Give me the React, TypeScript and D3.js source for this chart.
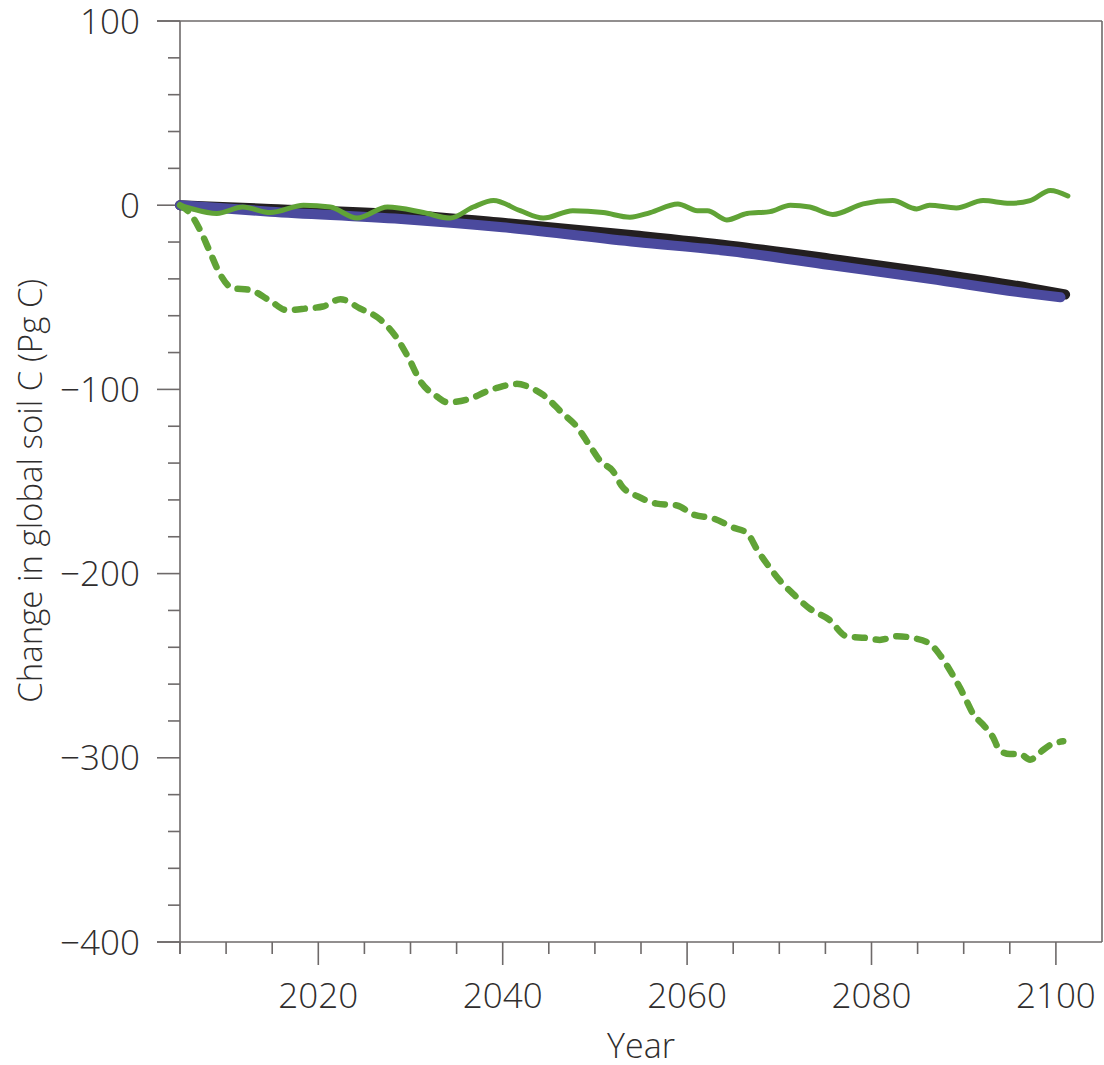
import React from 'react';
import * as d3 from 'd3';

const width = 1104;
const height = 1065;
const margin = { top: 21, right: 2, bottom: 123, left: 180 };

// soil C change (Pg C)
const dashedYears = [2005, 2006.1, 2007.2, 2008.3, 2009.3, 2010.7, 2012.6, 2014.8, 2016.6, 2018.8, 2020.5, 2022.4, 2024.5, 2026.7, 2028.5, 2029.9, 2031, 2032.9, 2034, 2036.5, 2038.3, 2039.5, 2041.5, 2043, 2044.4, 2046.5, 2048, 2049.5, 2050.6, 2051.9, 2053, 2054.6, 2056.7, 2058.9, 2060.7, 2062.8, 2065, 2066.5, 2067.6, 2069, 2070.1, 2071.5, 2073.3, 2075.4, 2077.3, 2079.5, 2080.9, 2082.8, 2084.5, 2086.3, 2087.4, 2088.8, 2089.6, 2090.3, 2091, 2092.1, 2093.2, 2093.9, 2095, 2096.1, 2097.2, 2098.3, 2099.4, 2100.8];
const dashedValues = [0, -4.5, -13.7, -26, -37, -45, -46, -52, -57, -56, -55, -51, -56, -62, -72, -84, -95, -104, -107, -105, -101, -99, -97, -99, -103, -113, -120, -131, -139, -144, -153, -158, -162, -163, -168, -170, -175, -178, -187, -197, -204, -211, -219, -225, -234, -235, -236, -234, -235, -238, -244, -255, -262, -269, -276, -282, -289, -296, -298, -298, -301, -297, -293, -291];

const greenYears = [2005, 2006, 2009, 2011.8, 2014.8, 2018.4, 2021.3, 2024.2, 2027.5, 2031.4, 2034.3, 2036.8, 2039, 2041.9, 2044.4, 2047.6, 2050.9, 2053.8, 2056, 2059, 2061.1, 2062.2, 2064.3, 2066.5, 2069, 2071.2, 2073.3, 2075.8, 2079.1, 2082.3, 2084.9, 2086.3, 2089.2, 2092.1, 2095, 2097.2, 2099.4, 2101.3];
const greenValues = [0, -1.5, -4.5, -1, -4, 0, -1, -7, -1, -4, -7, -1, 2.5, -3, -7, -3, -4, -6.5, -4, 0.7, -3, -3, -8, -4.5, -3.5, 0, -1, -5, 0.7, 2.5, -2, 0, -1.5, 2.5, 1, 2.5, 8, 5];

const blackYears = [2005, 2014.8, 2029, 2040, 2054.5, 2064.7, 2075.5, 2086.3, 2097.2, 2101];
const blackValues = [0, -2, -5, -9.5, -16.5, -22, -29, -36.5, -45, -48.5];

const blueYears = [2005, 2014.8, 2029, 2040, 2054.5, 2064.7, 2075.5, 2086.3, 2097.2, 2100.5];
const blueValues = [0, -3.5, -7.5, -12, -20, -25, -32.5, -40, -48, -50];

const yMajor = [100, 0, -100, -200, -300, -400];
const xMajor = [2020, 2040, 2060, 2080, 2100];

const axisColor = '#6e6a6a';
const textColor = '#2f2d2d';
const font = '"Open Sans", "Noto Sans", sans-serif';

export default function App() {
  const innerWidth = width - margin.left - margin.right;
  const innerHeight = height - margin.top - margin.bottom;

  const x = d3.scaleLinear().domain([2005, 2105]).range([0, innerWidth]);
  const y = d3.scaleLinear().domain([-400, 100]).range([innerHeight, 0]);

  const line = d3
    .line<[number, number]>()
    .x(d => x(d[0]))
    .y(d => y(d[1]))
    .curve(d3.curveMonotoneX);

  const zip = (a: number[], b: number[]) => a.map((v, i) => [v, b[i]] as [number, number]);

  const yMinor = d3.range(-400, 101, 20).filter(v => !yMajor.includes(v));
  const xMinor = d3.range(2005, 2101, 5).filter(v => !xMajor.includes(v));

  return (
    <svg width={width} height={height} style={{ position: 'absolute', left: 0, top: 0, background: '#fff' }}>
      <g transform={`translate(${margin.left},${margin.top})`}>
        {/* frame */}
        <line x1={-23} x2={innerWidth} y1={0} y2={0} stroke={axisColor} strokeWidth={1.6} />
        <line x1={innerWidth} x2={innerWidth} y1={0} y2={innerHeight} stroke={axisColor} strokeWidth={1.6} />
        <line x1={-23} x2={innerWidth} y1={innerHeight} y2={innerHeight} stroke={axisColor} strokeWidth={1.6} />
        <line x1={0} x2={0} y1={0} y2={innerHeight + 12} stroke={axisColor} strokeWidth={1.6} />

        {/* y ticks */}
        {yMajor.map(v => (
          <g key={v}>
            <line x1={-23} x2={0} y1={y(v)} y2={y(v)} stroke={axisColor} strokeWidth={1.6} />
            <text x={-40} y={y(v)} dy="0.36em" textAnchor="end" fontFamily={font} fontWeight={300} fontSize={35} fill={textColor}>
              {v < 0 ? `\u2212${-v}` : v}
            </text>
          </g>
        ))}
        {yMinor.map(v => (
          <line key={v} x1={-12} x2={0} y1={y(v)} y2={y(v)} stroke={axisColor} strokeWidth={1.6} />
        ))}

        {/* x ticks */}
        {xMajor.map(v => (
          <g key={v}>
            <line x1={x(v)} x2={x(v)} y1={innerHeight} y2={innerHeight + 23} stroke={axisColor} strokeWidth={1.6} />
            <text x={x(v)} y={innerHeight + 66} textAnchor="middle" fontFamily={font} fontWeight={300} fontSize={35} fill={textColor}>
              {v}
            </text>
          </g>
        ))}
        {xMinor.map(v => (
          <line key={v} x1={x(v)} x2={x(v)} y1={innerHeight} y2={innerHeight + 12} stroke={axisColor} strokeWidth={1.6} />
        ))}

        {/* series */}
        <path d={line(zip(blackYears, blackValues)) ?? ''} fill="none" stroke="#231f20" strokeWidth={10} strokeLinecap="round" strokeLinejoin="round" />
        <path d={line(zip(blueYears, blueValues)) ?? ''} fill="none" stroke="#4b4a9e" strokeWidth={10} strokeLinecap="round" strokeLinejoin="round" />
        <path d={line(zip(greenYears, greenValues)) ?? ''} fill="none" stroke="#60a336" strokeWidth={5} strokeLinecap="round" strokeLinejoin="round" />
        <path d={line(zip(dashedYears, dashedValues)) ?? ''} fill="none" stroke="#60a336" strokeWidth={6.5} strokeLinecap="round" strokeLinejoin="round" strokeDasharray="10 11" />

        {/* axis titles */}
        <text x={x(2055)} y={innerHeight + 116} textAnchor="middle" fontFamily={font} fontWeight={300} fontSize={34} fill={textColor}>
          Year
        </text>
        <text
          transform={`translate(${-138},${y(-155)}) rotate(-90)`}
          textAnchor="middle"
          fontFamily={font}
          fontWeight={300}
          fontSize={33}
          fill={textColor}
        >
          Change in global soil C (Pg C)
        </text>
      </g>
    </svg>
  );
}
